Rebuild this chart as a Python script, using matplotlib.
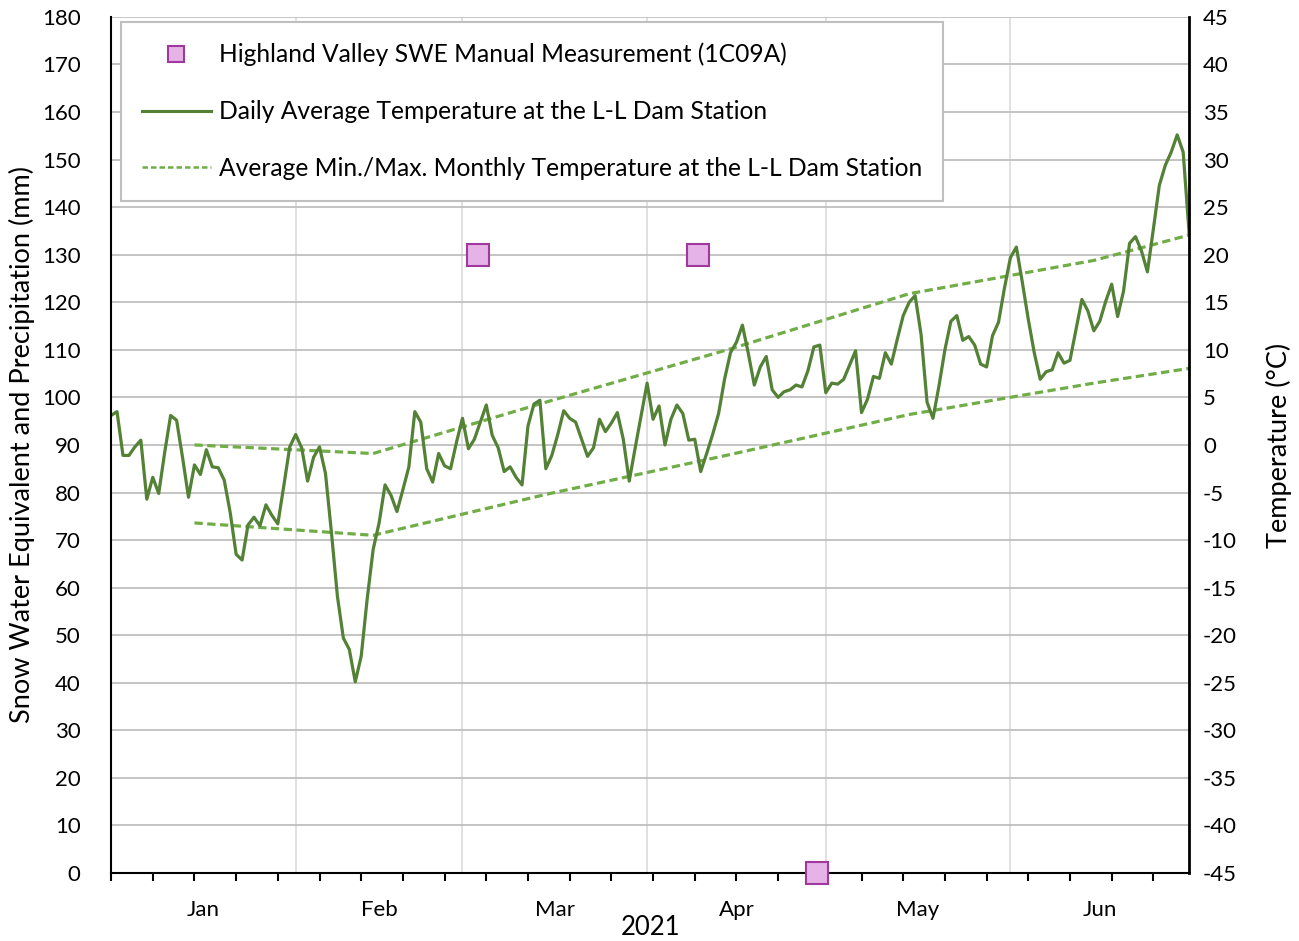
import numpy as np
import pandas as pd
import matplotlib
matplotlib.use("Agg")
import matplotlib.pyplot as plt
import matplotlib.dates as mdates
from matplotlib.lines import Line2D

plt.rcParams['font.family'] = ['Lato', 'DejaVu Sans']
plt.rcParams['axes.unicode_minus'] = False

# Daily average temperature (deg C), one value per day from 2021-01-01
dailyTemp = [
    3.1, 3.5, -1.1, -1.1, -0.2, 0.5, -5.7, -3.4, -5.1, -0.8,
    3.1, 2.6, -1.3, -5.5, -2.1, -3.1, -0.5, -2.3, -2.4, -3.7,
    -7.1, -11.5, -12.1, -8.4, -7.6, -8.5, -6.3, -7.4, -8.3, -4.3,
    -0.2, 1.1, -0.3, -3.8, -1.3, -0.2, -3.0, -9.2, -15.9, -20.3,
    -21.5, -24.9, -22.2, -16.2, -11.0, -8.2, -4.2, -5.3, -7.0, -4.7,
    -2.3, 3.5, 2.4, -2.5, -3.9, -0.9, -2.2, -2.5, 0.3, 2.8,
    -0.4, 0.6, 2.4, 4.2, 1.0, -0.3, -2.8, -2.3, -3.4, -4.2,
    2.0, 4.3, 4.7, -2.5, -1.1, 1.1, 3.6, 2.8, 2.4, 0.6,
    -1.2, -0.3, 2.7, 1.4, 2.3, 3.4, 0.6, -3.8, -0.3, 3.1,
    6.5, 2.7, 4.1, 0.0, 2.7, 4.2, 3.3, 0.5, 0.6, -2.8,
    -0.9, 1.1, 3.3, 6.9, 9.7, 10.8, 12.6, 9.6, 6.3, 8.2,
    9.3, 5.8, 5.0, 5.6, 5.8, 6.3, 6.1, 7.8, 10.3, 10.5,
    5.5, 6.5, 6.4, 6.9, 8.4, 9.9, 3.4, 4.8, 7.2, 7.0,
    9.7, 8.5, 11.1, 13.6, 15.0, 15.7, 11.6, 4.5, 2.8, 6.2,
    10.0, 13.0, 13.6, 11.0, 11.4, 10.5, 8.5, 8.2, 11.5, 12.9,
    16.5, 19.7, 20.8, 17.1, 13.2, 9.7, 6.9, 7.7, 7.9, 9.7,
    8.6, 8.9, 12.1, 15.3, 14.1, 12.0, 13.0, 15.1, 16.9, 13.5,
    16.2, 21.2, 21.9, 20.4, 18.2, 22.7, 27.3, 29.4, 30.8, 32.6,
    30.8, 22.3,
]
days = pd.date_range("2021-01-01", periods=len(dailyTemp), freq="D")

# Average monthly min / max temperature, plotted at mid-month
monthDates = pd.to_datetime(["2021-01-15", "2021-02-14", "2021-03-15", "2021-04-15",
                             "2021-05-15", "2021-06-15", "2021-07-15"])
maxTemp = [0.0, -0.9, 4.5, 10.1, 15.9, 19.4, 24.4]
minTemp = [-8.2, -9.5, -5.2, -1.0, 3.2, 6.5, 9.4]

# Manual SWE measurements (mm)
sweDates = pd.to_datetime(["2021-03-03 14:00", "2021-04-09 14:00", "2021-04-29 12:00"])
sweValues = [130, 130, 0]

monthNames = ["Jan", "Feb", "Mar", "Apr", "May", "Jun"]
monthStarts = pd.date_range("2021-01-01", "2021-07-01", freq="MS")

darkGreen = "#538135"
lightGreen = "#70AD47"
sqFill = "#E6B3E6"
sqEdge = "#A0399E"

fig = plt.figure(figsize=(12.99, 9.41), dpi=100)
ax = fig.add_axes([0.0855, 0.0723, 0.8299, 0.9097])
ax2 = ax.twinx()
ax.set_zorder(ax2.get_zorder() + 1)
ax.patch.set_visible(False)

# gridlines live on the temperature axis so the lines sit above them
ax2.set_ylim(-45, 45)
ax2.set_yticks(np.arange(-45, 46, 5))
ax2.yaxis.grid(True, color="#BFBFBF", linewidth=1.3)
for d in monthStarts[1:-1]:
    ax2.axvline(d, color="#DDDDDD", linewidth=1.3, zorder=0.5)

ax2.plot(days, dailyTemp, color=darkGreen, linewidth=2.3, zorder=3)
ax2.plot(monthDates, maxTemp, color=lightGreen, linewidth=2.3, dashes=(2.6, 1.4), zorder=2)
ax2.plot(monthDates, minTemp, color=lightGreen, linewidth=2.3, dashes=(2.6, 1.4), zorder=2)

ax.plot(sweDates, sweValues, ls="none", marker="s", markersize=15.5,
        markerfacecolor=sqFill, markeredgecolor=sqEdge, markeredgewidth=1.5,
        clip_on=False, zorder=5)

ax.set_ylim(0, 180)
ax.set_yticks(np.arange(0, 181, 10))
ax.set_xlim(monthStarts[0], monthStarts[-1])

# weekly tick marks, month names centred on each month
weekTicks = pd.date_range("2021-01-01", "2021-07-01", freq="7D")
ax.xaxis.set_major_locator(matplotlib.ticker.FixedLocator(mdates.date2num(weekTicks)))
ax.xaxis.set_major_formatter(matplotlib.ticker.NullFormatter())
ax.tick_params(axis="x", which="major", direction="out", length=6, width=1.5, color="black")
ax.tick_params(axis="y", length=0, pad=22, labelsize=16)
ax2.tick_params(axis="y", length=0, pad=10, labelsize=16)

for i, name in enumerate(monthNames):
    mid = monthStarts[i] + (monthStarts[i + 1] - monthStarts[i]) / 2
    ax.text(mid, -0.043, name, transform=ax.get_xaxis_transform(),
            ha="center", va="center", fontsize=16)
ax.text(0.5, -0.064, "2021", transform=ax.transAxes, ha="center", va="center", fontsize=18.5)

ax.set_ylabel("Snow Water Equivalent and Precipitation (mm)", fontsize=19.5)
ax.yaxis.set_label_coords(-0.071, 0.5)
ax2.set_ylabel("Temperature (°C)", fontsize=19.5)
ax2.yaxis.set_label_coords(1.071, 0.5)

for s in ["top", "left", "bottom", "right"]:
    ax2.spines[s].set_visible(False)
ax.spines["top"].set_visible(False)
for s in ["left", "bottom", "right"]:
    ax.spines[s].set_color("black")
    ax.spines[s].set_linewidth(1.5)
ax.spines["right"].set_linewidth(2)

handles = [
    Line2D([], [], ls="none", marker="s", markersize=11, markerfacecolor=sqFill,
           markeredgecolor=sqEdge, markeredgewidth=1.5),
    Line2D([], [], color=darkGreen, linewidth=2.2),
    Line2D([], [], color=lightGreen, linewidth=1.8, dashes=(2.2, 1.2)),
]
labels = ["Highland Valley SWE Manual Measurement (1C09A)",
          "Daily Average Temperature at the L-L Dam Station",
          "Average Min./Max. Monthly Temperature at the L-L Dam Station"]
leg = ax.legend(handles, labels, loc="upper left", bbox_to_anchor=(121 / 1299, 1 - 22 / 941),
                bbox_transform=fig.transFigure, borderaxespad=0, fontsize=17.7,
                fancybox=False, framealpha=1, edgecolor="#BFBFBF", handlelength=2.8,
                handletextpad=0.35, labelspacing=1.37, borderpad=0.85)
leg.get_frame().set_linewidth(1.5)

fig.savefig("out.png", dpi=100)
